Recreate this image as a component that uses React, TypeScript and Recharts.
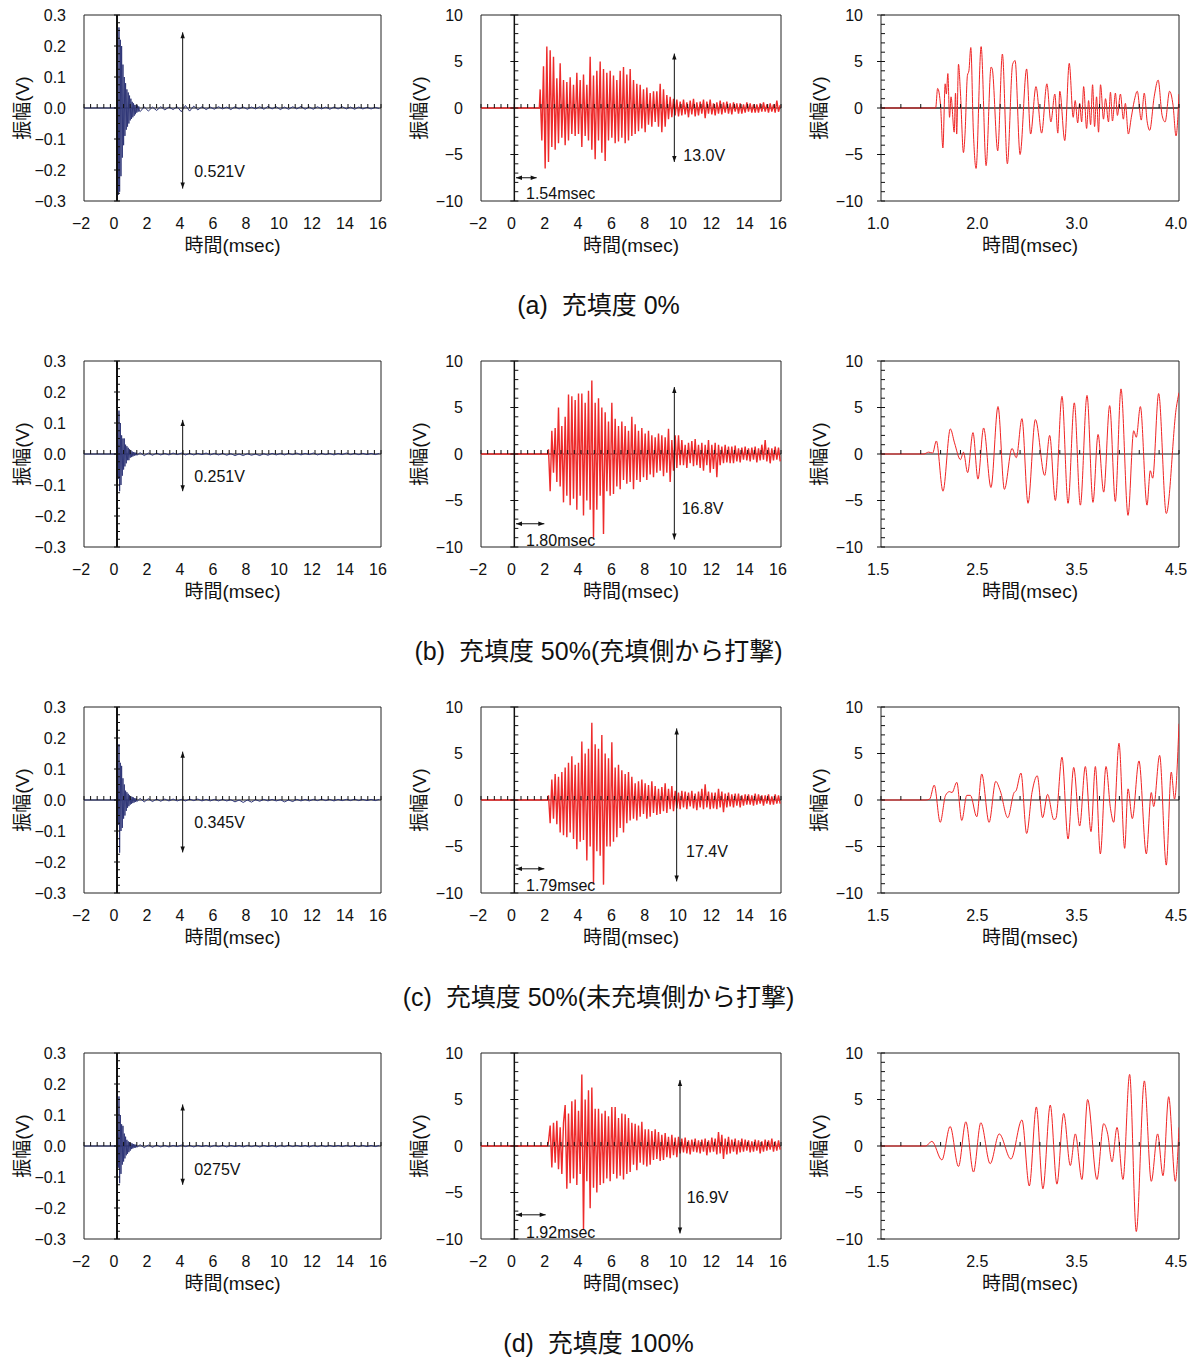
import React from "react";
import {
  Line,
  LineChart,
  ReferenceArea,
  ReferenceDot,
  ReferenceLine,
  XAxis,
  YAxis,
} from "recharts";

type Pt = { t: number; v: number };

const FONT = "'Liberation Sans', Arial, 'Noto Sans CJK JP', sans-serif";

// ---- layout of the figure (plot boxes) ----
const PLOT_H = 186;
const ROW_TOPS = [15, 361, 707, 1053];
const COL_LEFT = [84, 481, 881];
const COL_W = [297, 300, 298];

const captions = [
  "(a)  充填度 0%",
  "(b)  充填度 50%(充填側から打撃)",
  "(c)  充填度 50%(未充填側から打撃)",
  "(d)  充填度 100%",
];

// ---- tick labels ----
const wideTicksX = [-2, 0, 2, 4, 6, 8, 10, 12, 14, 16];
const leftTicksY = [-0.3, -0.2, -0.1, 0, 0.1, 0.2, 0.3];
const voltTicksY = [-10, -5, 0, 5, 10];
const zoomTicksXA = [1, 2, 3, 4];
const zoomTicksX = [1.5, 2.5, 3.5, 4.5];

// ---- left column: accelerometer (hammer) signal ----
const leftLead = [[-2, 0], [0, 0]];
const leftABurst = [0.05, -0.28, 0.26, -0.27, 0.22, -0.22, 0.2, -0.16, 0.14, -0.12, 0.1, -0.09, 0.08, -0.07, 0.06, -0.06, 0.05, -0.05, 0.04, -0.04, 0.03, -0.035, 0.02, -0.03, 0.015, -0.025, 0.01, -0.02, 0.01, -0.015, 0.008, -0.012, 0.005, -0.01];
const leftATail = [-0.012, 0.004, -0.01, 0.003, -0.008, 0.004, -0.006, 0.003, -0.005, 0.004, -0.012, 0.008, -0.01, 0.006, -0.006, 0.004, -0.005, 0.003, -0.004, 0.004, -0.003, 0.003, -0.005, 0.004, -0.003, 0.003, -0.004, 0.003, -0.003, 0.004, -0.004, 0.005, -0.003, 0.004, -0.005, 0.003, -0.004, 0.004, -0.003, 0.005, -0.004, 0.003, -0.004, 0.004, -0.003, 0.003, -0.004, 0.003, -0.003, 0.004, -0.003, 0.003, -0.004, 0.003, -0.003, 0.002, -0.003, 0.002, -0.002];
const leftBBurst = [0.03, -0.08, 0.14, -0.12, 0.1, -0.1, 0.06, -0.07, 0.05, -0.05, 0.05, -0.04, 0.03, -0.03, 0.025, -0.02, 0.02, -0.02, 0.015, -0.012, 0.012, -0.01, 0.008, -0.008, 0.006, -0.006, 0.005, -0.004, 0.004, -0.004];
const leftBTail = [0.004, -0.005, 0.003, -0.004, 0.003, -0.003, 0.002, -0.003, 0.003, -0.002, 0.003, -0.003, 0.002, -0.003, 0.002, -0.002, 0.003, -0.003, 0.002, -0.003, 0.002, -0.004, 0.001, -0.005, 0, -0.005, 0.001, -0.004, 0, -0.005, 0.001, -0.004, 0.002, -0.003, 0.002, -0.003, 0.002, -0.002, 0.003, -0.003, 0.002, -0.002, 0.003, -0.003, 0.002, -0.002, 0.002, -0.003, 0.002, -0.002, 0.003, -0.002, 0.002, -0.002, 0.002, -0.002, 0.002, -0.002, 0.002];
const leftCBurst = [0.05, -0.08, 0.18, -0.17, 0.12, -0.1, 0.11, -0.09, 0.07, -0.06, 0.05, -0.05, 0.03, -0.035, 0.025, -0.025, 0.02, -0.02, 0.015, -0.015, 0.012, -0.012, 0.01, -0.01, 0.008, -0.008, 0.006, -0.006, 0.005, -0.005];
const leftCTail = [0.005, -0.006, 0.004, -0.005, 0.003, -0.004, 0.003, -0.003, 0.003, -0.003, 0.002, -0.003, 0.003, -0.002, 0.003, -0.003, 0.002, -0.003, 0.002, -0.003, 0.002, -0.003, 0.001, -0.006, 0, -0.008, 0, -0.007, 0.001, -0.004, 0.002, -0.003, 0.002, -0.003, 0.001, -0.006, 0, -0.005, 0.002, -0.003, 0.002, -0.003, 0.002, -0.002, 0.003, -0.002, 0.002, -0.003, 0.002, -0.002, 0.002, -0.002, 0.003, -0.002, 0.002, -0.002, 0.002, -0.002, 0.002];
const leftDBurst = [0.04, -0.07, 0.16, -0.12, 0.1, -0.09, 0.07, -0.06, 0.065, -0.05, 0.04, -0.04, 0.03, -0.03, 0.02, -0.025, 0.015, -0.02, 0.012, -0.015, 0.01, -0.01, 0.008, -0.008, 0.006, -0.006, 0.005, -0.005, 0.004, -0.004];
const leftDTail = [0.004, -0.005, 0.003, -0.004, 0.003, -0.003, 0.002, -0.003, 0.002, -0.002, 0.003, -0.002, 0.002, -0.003, 0.002, -0.002, 0.002, -0.003, 0.002, -0.002, 0.002, -0.003, 0.002, -0.002, 0.002, -0.003, 0.002, -0.002, 0.002, -0.003, 0.002, -0.002, 0.002, -0.003, 0.002, -0.002, 0.003, -0.002, 0.002, -0.002, 0.002, -0.003, 0.002, -0.002, 0.002, -0.002, 0.002, -0.002, 0.002, -0.002, 0.002, -0.002, 0.002, -0.002, 0.002, -0.002, 0.002, -0.002, 0.002];

// ---- middle column: response waveforms, sampled every 0.1 msec ----
const midALead = [[-2, 0], [1.5, 0]];
const midAValues = [
  2.0, -3.5, 4.5, -6.5, 6.6, -5.8, 6.2, -4.2, 5.5, -4.5,
  3.2, -3.8, 4.8, -3.2, 3.0, -4.0, 2.8, -3.5, 3.3, -2.8,
  2.5, -3.0, 3.8, -2.8, 3.0, -4.2, 3.6, -3.0, 2.5, -3.5,
  5.5, -4.5, 3.5, -5.5, 4.0, -3.5, 5.0, -4.8, 4.2, -5.7,
  3.8, -3.5, 4.0, -3.2, 3.5, -3.8, 3.0, -3.6, 4.0, -3.2,
  4.4, -3.8, 3.6, -3.5, 4.2, -3.0, 3.0, -2.8, 2.6, -2.5,
  2.5, -2.2, 2.0, -2.6, 2.2, -1.8, 1.6, -2.0, 1.8, -1.5,
  1.8, -2.0, 2.6, -2.6, 2.0, -2.0, 1.4, -1.2, 1.2, -1.0,
  1.0, -0.8, 0.9, -0.9, 0.7, -0.8, 0.9, -0.7, 0.6, -1.0,
  0.8, -0.7, 1.0, -0.9, 0.6, -0.8, 0.7, -0.6, 0.9, -1.1,
  0.7, -0.6, 0.9, -0.7, 0.5, -0.8, 0.6, -0.6, 0.8, -0.7,
  0.6, -0.5, 0.7, -0.6, 0.5, -0.7, 0.6, -0.4, 0.5, -0.6,
  0.5, -0.6, 0.4, -0.5, 0.6, -0.4, 0.5, -0.5, 0.4, -0.5,
  0.4, -0.5, 0.5, -0.4, 0.6, -0.4, 0.4, -0.5, 0.5, -0.4,
  0.4, -0.5, 0.8, -0.4, 0.3,
];
const midLead = [[-2, 0], [2.0, 0]];
const midBValues = [
  0.5, -4.0, 2.5, -2.0, 2.8, -3.0, 5.0, -3.5, 3.0, -5.2,
  4.0, -4.5, 6.4, -5.5, 6.2, -4.8, 5.8, -6.0, 6.5, -4.5,
  6.5, -6.6, 5.5, -5.0, 6.8, -6.0, 7.9, -9.0, 5.5, -6.0,
  6.0, -4.5, 5.0, -8.6, 4.5, -4.0, 3.5, -4.5, 5.5, -4.3,
  3.8, -3.5, 3.0, -3.8, 3.5, -2.8, 3.0, -3.2, 2.5, -3.0,
  4.0, -3.8, 3.2, -2.8, 2.5, -3.0, 2.8, -2.5, 2.2, -2.8,
  2.5, -2.2, 2.0, -2.5, 1.8, -2.0, 2.2, -1.8, 2.0, -2.4,
  1.8, -2.0, 2.7, -3.0, 1.5, -1.8, 2.0, -1.5, 2.0, -1.2,
  1.5, -1.2, 1.0, -1.5, 1.2, -1.0, 1.4, -1.3, 1.6, -1.2,
  1.0, -1.5, 1.2, -1.8, 1.0, -1.2, 1.5, -2.0, 1.0, -1.6,
  1.2, -2.5, 1.0, -1.2, 0.8, -1.0, 1.0, -0.9, 0.8, -1.0,
  0.8, -1.0, 0.9, -0.8, 0.6, -0.9, 0.7, -0.6, 0.8, -0.7,
  0.6, -0.8, 0.7, -0.6, 0.8, -0.9, 0.6, -0.7, 1.0, -0.6,
  1.5, -0.8, 0.7, -1.0, 0.6, -0.7, 0.8, -0.6, 0.7, -0.8,
];
const midCValues = [
  0.5, -2.5, 2.2, -2.0, 2.8, -2.6, 2.5, -3.5, 3.0, -3.8,
  3.5, -4.0, 4.0, -3.5, 4.7, -4.2, 3.8, -5.3, 4.0, -4.5,
  6.3, -4.3, 5.0, -6.5, 5.5, -5.0, 8.3, -9.0, 6.0, -5.5,
  5.5, -6.0, 7.0, -9.1, 5.0, -5.0, 4.5, -5.0, 6.2, -4.5,
  3.5, -4.0, 3.8, -3.0, 3.2, -3.5, 2.8, -2.5, 3.0, -2.2,
  2.5, -2.0, 1.8, -2.2, 2.0, -1.8, 2.2, -1.5, 1.8, -2.0,
  1.6, -1.8, 2.0, -1.4, 1.5, -1.6, 1.2, -1.5, 1.4, -1.2,
  1.8, -1.4, 1.2, -1.0, 1.5, -1.2, 1.0, -0.9, 0.8, -1.0,
  1.0, -0.8, 0.9, -1.0, 0.8, -0.7, 1.0, -0.9, 0.7, -1.1,
  0.9, -0.8, 1.2, -1.0, 1.7, -0.8, 0.9, -1.0, 0.8, -0.9,
  0.8, -1.0, 1.2, -0.8, 0.9, -1.3, 0.7, -0.8, 0.8, -0.7,
  0.6, -0.8, 0.7, -0.6, 0.7, -0.8, 0.5, -0.6, 0.6, -0.5,
  0.6, -0.5, 0.5, -0.6, 0.7, -0.5, 0.6, -0.4, 0.5, -0.6,
  0.5, -0.4, 0.6, -0.5, 0.4, -0.5, 0.6, -0.4, 0.5, -0.4,
];
const midDValues = [
  0.5, 2.2, -2.3, 2.5, -1.8, 2.7, -2.5, 2.0, -3.0, 2.5,
  4.4, -4.6, 3.5, -4.0, 4.8, -3.5, 5.0, -4.2, 3.8, -3.0,
  7.7, -9.0, 5.0, -3.8, 6.0, -6.7, 6.3, -4.5, 4.0, -5.0,
  4.0, -4.2, 3.5, -4.0, 3.8, -3.5, 3.2, -3.8, 4.2, -3.0,
  4.2, -3.5, 3.0, -3.2, 3.5, -3.6, 3.4, -3.0, 3.0, -2.8,
  2.5, -2.0, 2.4, -2.6, 2.2, -1.8, 2.6, -2.0, 1.8, -2.2,
  1.8, -2.0, 1.6, -1.5, 1.8, -1.4, 1.5, -1.6, 1.2, -1.5,
  1.4, -1.2, 1.0, -1.3, 1.2, -1.0, 0.9, -1.2, 1.0, -0.8,
  0.8, -0.7, 0.9, -0.8, 0.6, -0.9, 0.7, -0.6, 0.8, -0.7,
  0.6, -0.8, 0.7, -0.6, 0.8, -1.0, 0.6, -0.7, 0.9, -0.6,
  0.8, -0.9, 1.5, -0.8, 1.2, -1.4, 0.8, -0.9, 1.0, -0.8,
  0.7, -0.6, 0.8, -0.9, 0.6, -0.7, 0.8, -0.6, 0.7, -0.5,
  0.6, -0.7, 0.5, -0.6, 0.7, -0.5, 0.6, -0.8, 0.5, -0.6,
  0.7, -0.5, 0.6, -0.4, 0.8, -0.6, 0.5, -0.5, 0.6, -0.4,
];

// ---- right column: zoom of the first part of the response (peaks / troughs) ----
const rightAPts = [[1.0, 0], [1.55, 0], [1.57, 2.1], [1.6, 0.2], [1.623, -4.3], [1.646, 2.6], [1.658, 1.5], [1.673, 3.7], [1.69, -1.0], [1.705, 1.2], [1.737, -2.6], [1.75, 1.6], [1.762, -2.8], [1.78, 4.7], [1.8, 1.6], [1.83, -4.8], [1.845, -3.0], [1.87, 3.5], [1.885, 4.0], [1.904, 6.5], [1.93, -2.6], [1.957, -6.5], [2.008, 6.6], [2.058, -6.2], [2.108, 4.4], [2.12, 4.2], [2.175, -4.6], [2.222, 5.8], [2.272, -6.0], [2.325, 4.7], [2.35, 5.1], [2.4, -5.0], [2.466, 4.2], [2.506, -2.8], [2.56, 2.3], [2.617, -2.7], [2.67, 2.6], [2.71, -1.5], [2.75, 1.5], [2.78, -2.7], [2.8, 1.8], [2.85, -3.5], [2.895, 4.8], [2.935, -1.0], [2.955, 0.8], [2.98, -1.6], [3.0, 0.5], [3.02, -1.5], [3.04, 2.3], [3.07, -2.2], [3.09, 0.8], [3.11, -1.8], [3.13, 2.5], [3.15, -2.0], [3.17, 1.2], [3.19, -2.6], [3.21, 2.5], [3.24, -1.2], [3.26, 1.0], [3.29, -1.5], [3.31, 1.7], [3.33, -1.4], [3.36, 1.6], [3.38, -0.8], [3.41, 1.5], [3.44, -1.2], [3.46, 0.5], [3.49, -2.8], [3.52, -1.0], [3.55, 0.8], [3.58, 1.8], [3.62, -1.3], [3.65, 1.6], [3.68, -1.5], [3.705, -2.4], [3.75, 1.2], [3.79, 3.0], [3.83, -0.8], [3.86, -1.5], [3.905, 1.8], [3.94, 0.3], [3.97, -3.0], [4.0, 1.5]];
const rightBPts = [[1.5, 0], [1.93, 0], [1.98, 0.2], [2.02, 0.1], [2.057, 1.4], [2.124, -4.0], [2.198, 2.7], [2.24, 1.2], [2.3, -0.6], [2.33, 0.2], [2.372, -2.0], [2.426, 2.3], [2.476, -2.7], [2.533, 2.8], [2.607, -3.6], [2.678, 5.1], [2.742, -3.8], [2.819, 0.6], [2.862, -0.4], [2.919, 3.8], [2.98, -5.3], [3.054, 3.7], [3.148, -2.3], [3.198, 2.0], [3.255, -5.0], [3.322, 6.2], [3.383, -5.3], [3.446, 5.5], [3.507, -5.5], [3.574, 6.3], [3.634, -5.2], [3.685, 2.1], [3.742, -4.1], [3.802, 5.2], [3.859, -5.1], [3.916, 7.0], [3.987, -6.6], [4.044, 2.5], [4.07, 1.8], [4.111, 5.1], [4.178, -5.5], [4.211, -1.8], [4.235, -2.6], [4.295, 6.5], [4.372, -6.4], [4.473, 5.0], [4.5, 6.6]];
const rightCPts = [[1.5, 0], [1.95, 0], [1.99, 0.1], [2.036, 1.6], [2.096, -2.4], [2.15, 0.5], [2.19, 0.9], [2.215, 0.8], [2.263, 1.9], [2.313, -2.2], [2.364, 0.5], [2.4, 0.5], [2.464, -1.8], [2.514, 2.8], [2.588, -2.4], [2.655, 2.0], [2.7, 1.0], [2.776, -1.9], [2.84, 0.8], [2.86, 1.0], [2.909, 2.9], [2.966, -3.6], [3.02, 0.8], [3.073, 2.6], [3.127, -1.9], [3.177, 0.6], [3.24, -2.1], [3.26, -2.0], [3.322, 4.6], [3.383, -4.2], [3.44, 3.5], [3.5, -2.8], [3.557, 3.6], [3.614, -3.4], [3.658, 3.6], [3.708, -5.8], [3.765, 3.6], [3.81, -0.9], [3.843, -2.4], [3.896, 6.1], [3.953, -5.2], [3.987, 1.2], [4.03, -2.0], [4.097, 4.2], [4.171, -5.8], [4.221, 0.8], [4.245, -0.7], [4.305, 4.8], [4.372, -7.0], [4.422, 3.0], [4.455, 0.1], [4.5, 8.2]];
const rightDPts = [[1.5, 0], [1.95, 0], [2.012, 0.5], [2.113, -1.5], [2.196, 2.1], [2.28, -2.2], [2.354, 2.6], [2.431, -2.8], [2.505, 2.5], [2.599, -1.9], [2.69, 1.3], [2.808, -1.4], [2.919, 2.8], [2.993, -4.3], [3.064, 4.2], [3.13, -4.6], [3.204, 4.4], [3.271, -4.1], [3.339, 3.5], [3.406, -2.1], [3.456, 1.3], [3.523, -3.6], [3.58, 5.0], [3.674, -3.6], [3.742, 2.4], [3.78, 1.4], [3.826, -1.7], [3.876, 2.0], [3.936, -3.6], [4.003, 7.7], [4.07, -9.2], [4.151, 7.0], [4.221, -3.8], [4.285, 1.3], [4.339, -3.2], [4.396, 5.3], [4.463, -3.8], [4.5, 2.0]];

// ---- annotations ----
const leftArrowX = 3.98;
const leftArrowTop = [0.244, 0.11, 0.156, 0.134];
const leftArrowBottom = [-0.26, -0.12, -0.169, -0.125];
const leftNotes = ["0.521V", "0.251V", "0.345V", "0275V"];
const leftNoteY = [-0.205, -0.073, -0.073, -0.075];
const midArrowX = [9.6, 9.6, 9.74, 9.94];
const midArrowTop = [5.85, 7.2, 7.7, 7.1];
const midArrowBottom = [-5.8, -9.2, -8.75, -9.4];
const midNotes = ["13.0V", "16.8V", "17.4V", "16.9V"];
const midNoteX = [10.14, 10.04, 10.3, 10.34];
const midNoteY = [-5.1, -5.9, -5.5, -5.5];
const delayNotes = ["1.54msec", "1.80msec", "1.79msec", "1.92msec"];
const delayEnd = [1.34, 1.8, 1.8, 1.88];
const delayY = [-7.5, -7.5, -7.4, -7.4];
const delayNoteY = [-9.2, -9.3, -9.2, -9.3];

// ---- helpers ----
const sampled = (start: number, step: number, values: number[]): Pt[] =>
  values.map((v, i) => ({ t: Math.round((start + i * step) * 1000) / 1000, v }));
const pairs = (list: number[][]): Pt[] => list.map(([t, v]) => ({ t, v }));
const range = (a: number, b: number, step: number) => {
  const out: number[] = [];
  for (let v = a; v <= b + 1e-9; v += step) out.push(Math.round(v * 1000) / 1000);
  return out;
};
const isMultiple = (v: number, m: number) => Math.abs(v / m - Math.round(v / m)) < 1e-6;
const fmt = (digits: number) => (v: number) => v.toFixed(digits).replace("-", "\u2212");

const leftData = [
  [leftABurst, leftATail],
  [leftBBurst, leftBTail],
  [leftCBurst, leftCTail],
  [leftDBurst, leftDTail],
].map(([burst, tail]) => [...pairs(leftLead), ...sampled(0.04, 0.04, burst), ...sampled(1.4, 0.25, tail)]);
const midData = [
  [...pairs(midALead), ...sampled(1.55, 0.1, midAValues)],
  [...pairs(midLead), ...sampled(2.05, 0.1, midBValues)],
  [...pairs(midLead), ...sampled(2.05, 0.1, midCValues)],
  [...pairs(midLead), ...sampled(2.05, 0.1, midDValues)],
];
const rightData = [rightAPts, rightBPts, rightCPts, rightDPts].map(pairs);

type Arrow = { x1: number; y1: number; x2: number; y2: number };
type Note = { x: number; y: number; text: string };
type Spec = {
  left: number;
  top: number;
  width: number;
  xDomain: [number, number];
  yDomain: [number, number];
  xTicks: number[];
  yTicks: number[];
  xDigits: number;
  yDigits: number;
  data: Pt[];
  color: string;
  lineWidth: number;
  curve: "linear" | "monotone";
  axisX: number;
  axisTicks: number[];
  axisMajor: number;
  axisWidth: number;
  tickLen: number;
  zeroTicks: number[];
  zeroColor: string;
  zeroWidth: number;
  arrows: Arrow[];
  notes: Note[];
};

const arrowShape = (p: any) => {
  const { x1, y1, x2, y2 } = p;
  const len = Math.hypot(x2 - x1, y2 - y1) || 1;
  const ux = (x2 - x1) / len;
  const uy = (y2 - y1) / len;
  const head = (x: number, y: number, sx: number, sy: number) =>
    `M${x},${y} L${x - sx * 6 - sy * 2.2},${y - sy * 6 + sx * 2.2} L${x - sx * 6 + sy * 2.2},${y - sy * 6 - sx * 2.2} Z`;
  return (
    <g>
      <line x1={x1} y1={y1} x2={x2} y2={y2} stroke="#111" strokeWidth={1} />
      <path d={head(x2, y2, ux, uy)} fill="#111" />
      <path d={head(x1, y1, -ux, -uy)} fill="#111" />
    </g>
  );
};

const vTick = (up: number, down: number) => (p: any) => (
  <line x1={p.cx} x2={p.cx} y1={p.cy - up} y2={p.cy + down} stroke="#111" strokeWidth={1} />
);
const hTick = (left: number, right: number) => (p: any) => (
  <line x1={p.cx - left} x2={p.cx + right} y1={p.cy} y2={p.cy} stroke="#111" strokeWidth={1} />
);
const noteShape = (text: string) => (p: any) => (
  <text x={p.cx} y={p.cy} fontSize={16} fill="#111" dominantBaseline="central">
    {text}
  </text>
);

const xLabel = (p: any) => {
  const vb = p.viewBox;
  return (
    <text x={vb.x + vb.width / 2} y={vb.y + 44} fontSize={19} fill="#111" textAnchor="middle" dominantBaseline="central">
      時間(msec)
    </text>
  );
};
const yLabel = (p: any) => {
  const vb = p.viewBox;
  const x = vb.x + vb.width - 62;
  const y = vb.y + vb.height / 2;
  return (
    <text x={x} y={y} fontSize={19} fill="#111" textAnchor="middle" dominantBaseline="central" transform={`rotate(-90 ${x} ${y})`}>
      振幅(V)
    </text>
  );
};

function Panel({ spec }: { spec: Spec }) {
  const ML = 90;
  const MT = 10;
  const MR = 14;
  const MB = 60;
  const [x0, x1] = spec.xDomain;
  const [y0, y1] = spec.yDomain;
  return (
    <div style={{ position: "absolute", left: spec.left - ML, top: spec.top - MT, fontFamily: FONT }}>
      <LineChart
        width={spec.width + ML + MR}
        height={PLOT_H + MT + MB}
        data={spec.data}
        margin={{ top: MT, right: MR, bottom: 0, left: ML - 60 }}
      >
        <XAxis
          dataKey="t"
          type="number"
          domain={spec.xDomain}
          ticks={spec.xTicks}
          allowDataOverflow
          interval={0}
          tickLine={false}
          axisLine={false}
          height={MB}
          tickSize={6}
          tickMargin={11}
          tick={{ fontSize: 16, fill: "#111", dx: -3 }}
          tickFormatter={fmt(spec.xDigits)}
          label={xLabel}
        />
        <YAxis
          type="number"
          domain={spec.yDomain}
          ticks={spec.yTicks}
          allowDataOverflow
          interval={0}
          tickLine={false}
          axisLine={false}
          width={60}
          tickSize={6}
          tickMargin={12}
          tick={{ fontSize: 16, fill: "#111" }}
          tickFormatter={fmt(spec.yDigits)}
          label={yLabel}
        />
        <ReferenceLine y={0} stroke={spec.zeroColor} strokeWidth={spec.zeroWidth} />
        <Line
          dataKey="v"
          type={spec.curve}
          stroke={spec.color}
          strokeWidth={spec.lineWidth}
          dot={false}
          isAnimationActive={false}
        />
        {spec.axisWidth > 0 && (
          <ReferenceLine x={spec.axisX} stroke="#111" strokeWidth={spec.axisWidth} />
        )}
        {spec.zeroTicks.map((t) => (
          <ReferenceDot key={`z${t}`} x={t} y={0} r={0} shape={vTick(4, 0)} />
        ))}
        {spec.axisTicks.map((v) => (
          <ReferenceDot
            key={`a${v}`}
            x={spec.axisX}
            y={v}
            r={0}
            shape={hTick(isMultiple(v, spec.axisMajor) ? spec.tickLen : 0, spec.tickLen)}
          />
        ))}
        {spec.arrows.map((a, i) => (
          <ReferenceLine
            key={`ar${i}`}
            segment={[
              { x: a.x1, y: a.y1 },
              { x: a.x2, y: a.y2 },
            ]}
            shape={arrowShape}
          />
        ))}
        {spec.notes.map((n, i) => (
          <ReferenceDot key={`n${i}`} x={n.x} y={n.y} r={0} shape={noteShape(n.text)} />
        ))}
        <ReferenceArea x1={x0} x2={x1} y1={y0} y2={y1} fill="none" stroke="#222" strokeWidth={1} />
      </LineChart>
    </div>
  );
}

const specs: Spec[] = [];
ROW_TOPS.forEach((top, r) => {
  specs.push({
    left: COL_LEFT[0],
    top,
    width: COL_W[0],
    xDomain: [-2, 16],
    yDomain: [-0.3, 0.3],
    xTicks: wideTicksX,
    yTicks: leftTicksY,
    xDigits: 0,
    yDigits: 1,
    data: leftData[r],
    color: "#2f3677",
    lineWidth: 1,
    curve: "linear",
    axisX: 0,
    axisTicks: range(-0.3, 0.3, 0.025),
    axisMajor: 0.1,
    axisWidth: 2,
    tickLen: 3,
    zeroTicks: range(-2, 16, 0.4),
    zeroColor: "#111",
    zeroWidth: 1,
    arrows: [{ x1: leftArrowX, y1: leftArrowTop[r], x2: leftArrowX, y2: leftArrowBottom[r] }],
    notes: [{ x: 4.68, y: leftNoteY[r], text: leftNotes[r] }],
  });
  specs.push({
    left: COL_LEFT[1],
    top,
    width: COL_W[1],
    xDomain: [-2, 16],
    yDomain: [-10, 10],
    xTicks: wideTicksX,
    yTicks: voltTicksY,
    xDigits: 0,
    yDigits: 0,
    data: midData[r],
    color: "#ee2b2b",
    lineWidth: 1.4,
    curve: "linear",
    axisX: 0,
    axisTicks: range(-10, 10, 1),
    axisMajor: 5,
    axisWidth: 1.5,
    tickLen: 4,
    zeroTicks: range(-2, 16, 0.4),
    zeroColor: "#111",
    zeroWidth: 1,
    arrows: [
      { x1: midArrowX[r], y1: midArrowTop[r], x2: midArrowX[r], y2: midArrowBottom[r] },
      { x1: 0.1, y1: delayY[r], x2: delayEnd[r], y2: delayY[r] },
    ],
    notes: [
      { x: midNoteX[r], y: midNoteY[r], text: midNotes[r] },
      { x: 0.7, y: delayNoteY[r], text: delayNotes[r] },
    ],
  });
  const xr: [number, number] = r === 0 ? [1, 4] : [1.5, 4.5];
  specs.push({
    left: COL_LEFT[2],
    top,
    width: COL_W[2],
    xDomain: xr,
    yDomain: [-10, 10],
    xTicks: r === 0 ? zoomTicksXA : zoomTicksX,
    yTicks: voltTicksY,
    xDigits: 1,
    yDigits: 0,
    data: rightData[r],
    color: "#f02424",
    lineWidth: 1,
    curve: "monotone",
    axisX: xr[0],
    axisTicks: range(-10, 10, 1),
    axisMajor: 5,
    axisWidth: 0,
    tickLen: 4,
    zeroTicks: range(xr[0], xr[1], 0.2),
    zeroColor: r === 0 ? "#5e5e5e" : "#111",
    zeroWidth: r === 0 ? 2 : 1,
    arrows: [],
    notes: [],
  });
});

export default function App() {
  return (
    <div
      style={{
        position: "absolute",
        left: 0,
        top: 0,
        width: 1197,
        height: 1360,
        background: "#fff",
        fontFamily: FONT,
        color: "#111",
      }}
    >
      {specs.map((s, i) => (
        <Panel key={i} spec={s} />
      ))}
      {captions.map((c, r) => (
        <div
          key={c}
          style={{
            position: "absolute",
            left: 0,
            width: 1197,
            top: ROW_TOPS[r] + 290 - 16,
            height: 32,
            lineHeight: "32px",
            fontSize: 25,
            textAlign: "center",
            whiteSpace: "pre",
          }}
        >
          {c}
        </div>
      ))}
    </div>
  );
}
